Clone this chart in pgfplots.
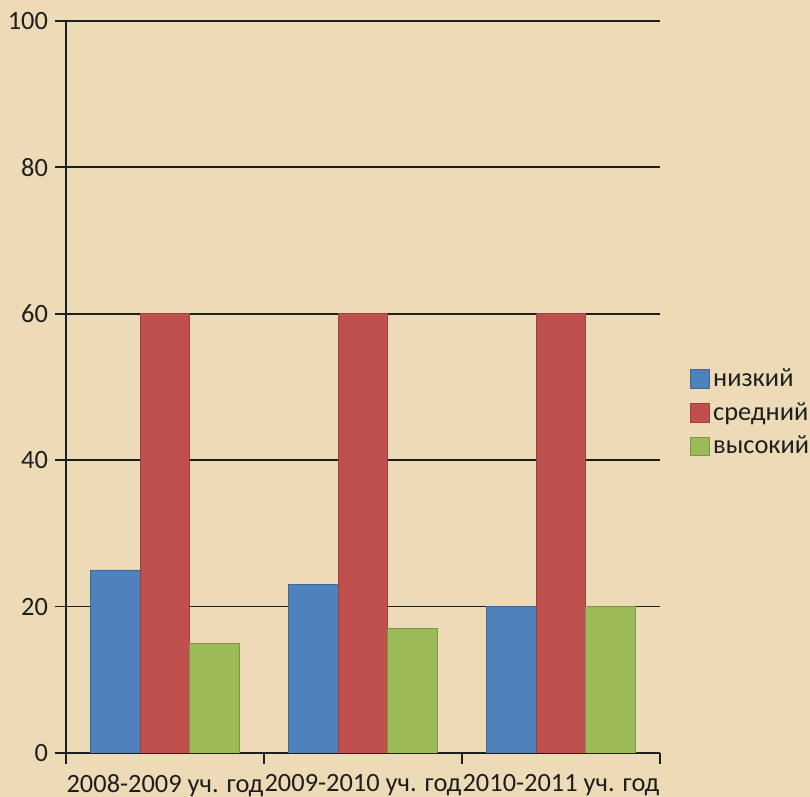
\documentclass[border=0pt]{standalone}
\usepackage{fontspec}
\setmainfont{Carlito}
\usepackage{pgfplots}
\pgfplotsset{compat=1.18}
\definecolor{bg}{RGB}{236,219,182}
\definecolor{cblue}{RGB}{79,129,189}
\definecolor{cred}{RGB}{192,80,77}
\definecolor{cgreen}{RGB}{155,187,89}
\definecolor{txt}{RGB}{30,30,30}
\begin{document}
\begin{tikzpicture}
\useasboundingbox[fill=bg] (-33pt,-22pt) rectangle (372pt,376.5pt);
\begin{axis}[
  at={(0,0)}, anchor=south west,
  scale only axis, width=297pt, height=366pt,
  axis lines*=left,
  enlargelimits=false,
  xmin=-0.5, xmax=2.5, ymin=0, ymax=100,
  ybar=0pt, bar width=0.25,
  ytick={0,20,40,60,80,100},
  ymajorgrids,
  grid style={line width=0.9pt, color=txt},
  axis line style={line width=0.9pt, color=txt},
  tick style={line width=0.9pt, color=txt},
  tick align=outside,
  major tick length=5.5pt,
  xtick={-0.5,0.5,1.5,2.5},
  xticklabels={,,,},
  extra x ticks={0,1,2},
  extra x tick labels={2008-2009 уч. год,2009-2010 уч. год,2010-2011 уч. год},
  extra x tick style={major tick length=0pt, tick label style={yshift=-7pt}},
  tick label style={font=\fontsize{13.2}{15}\selectfont, text=txt},
  /pgf/number format/assume math mode=true,
  legend style={at={(1.04,0.465)}, anchor=west, draw=none, fill=none,
    font=\fontsize{13.2}{15}\selectfont, text=txt, row sep=2.5pt,
    /tikz/every even column/.append style={column sep=0pt}},
  legend cell align=left,
  legend image code/.code={\filldraw[#1, line width=0.3pt] (0pt,-4.6pt) rectangle (9.2pt,4.6pt);},
]
\addplot[fill=cblue, draw=cblue!80!black, line width=0.3pt] coordinates {(0,25) (1,23) (2,20)};
\addplot[fill=cred, draw=cred!80!black, line width=0.3pt] coordinates {(0,60) (1,60) (2,60)};
\addplot[fill=cgreen, draw=cgreen!80!black, line width=0.3pt] coordinates {(0,15) (1,17) (2,20)};
\legend{низкий,средний,высокий}
\end{axis}
\end{tikzpicture}
\end{document}
